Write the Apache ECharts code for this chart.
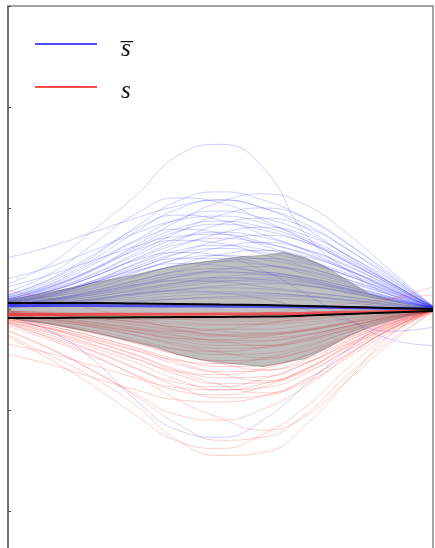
<!DOCTYPE html>
<html>
<head>
<meta charset="utf-8">
<script src="https://cdn.jsdelivr.net/npm/echarts@6/dist/echarts.min.js"></script>
<style>
  html, body { margin: 0; padding: 0; background: #fff; }
  #chart { width: 435px; height: 548px; }
</style>
</head>
<body>
<div id="chart"></div>
<script>
// sample positions along the horizontal axis
const xs = [0, 10, 20, 30, 40, 50, 60, 70, 80, 90, 100];

// s-bar trajectories (blue)
const sBarCurves = [
  [0.25, 0.45, 0.78, 1.12, 1.52, 1.63, 1.4, 0.74, 0.38, 0.14, 0.01],
  [0.51, 0.62, 0.76, 0.9, 1.02, 1.08, 1.0, 0.8, 0.52, 0.26, 0.02],
  [0.14, 0.29, 0.52, 0.81, 1.07, 1.16, 1.08, 0.9, 0.64, 0.35, 0.02],
  [0.11, 0.23, 0.4, 0.63, 0.87, 1.06, 1.14, 1.03, 0.74, 0.38, 0.03],
  [0.17, 0.35, 0.64, 0.94, 1.1, 1.05, 0.88, 0.68, 0.46, 0.24, 0.01],
  [0.13, 0.27, 0.49, 0.76, 0.99, 1.08, 1.0, 0.84, 0.59, 0.32, 0.02],
  [0.1, 0.2, 0.35, 0.55, 0.76, 0.93, 1.0, 0.9, 0.65, 0.33, 0.03],
  [0.12, 0.24, 0.44, 0.68, 0.89, 0.97, 0.9, 0.76, 0.53, 0.29, 0.02],
  [0.14, 0.3, 0.54, 0.79, 0.93, 0.88, 0.74, 0.58, 0.39, 0.2, 0.01],
  [0.09, 0.18, 0.32, 0.5, 0.68, 0.84, 0.9, 0.81, 0.59, 0.3, 0.03],
  [0.1, 0.22, 0.39, 0.61, 0.8, 0.87, 0.81, 0.68, 0.48, 0.26, 0.02],
  [0.1, 0.21, 0.38, 0.59, 0.77, 0.84, 0.78, 0.66, 0.46, 0.25, 0.02],
  [0.08, 0.16, 0.28, 0.45, 0.62, 0.75, 0.81, 0.73, 0.53, 0.27, 0.02],
  [0.12, 0.25, 0.46, 0.67, 0.79, 0.75, 0.63, 0.49, 0.33, 0.17, 0.01],
  [0.09, 0.19, 0.34, 0.53, 0.7, 0.76, 0.71, 0.59, 0.42, 0.23, 0.02],
  [0.07, 0.15, 0.26, 0.4, 0.55, 0.68, 0.73, 0.66, 0.47, 0.24, 0.02],
  [0.08, 0.18, 0.32, 0.49, 0.64, 0.7, 0.65, 0.55, 0.39, 0.21, 0.01],
  [0.1, 0.22, 0.39, 0.58, 0.68, 0.65, 0.54, 0.42, 0.29, 0.15, 0.01],
  [0.07, 0.13, 0.23, 0.36, 0.5, 0.61, 0.66, 0.59, 0.43, 0.22, 0.02],
  [0.08, 0.16, 0.28, 0.44, 0.58, 0.63, 0.59, 0.49, 0.35, 0.19, 0.01],
  [0.07, 0.15, 0.27, 0.42, 0.55, 0.6, 0.56, 0.47, 0.33, 0.18, 0.01],
  [0.06, 0.12, 0.2, 0.32, 0.44, 0.54, 0.58, 0.52, 0.38, 0.19, 0.02],
  [0.08, 0.18, 0.32, 0.48, 0.56, 0.53, 0.45, 0.35, 0.24, 0.12, 0.01],
  [0.06, 0.13, 0.24, 0.37, 0.49, 0.53, 0.49, 0.41, 0.29, 0.16, 0.01],
  [0.05, 0.1, 0.18, 0.28, 0.38, 0.47, 0.5, 0.45, 0.33, 0.17, 0.02],
  [0.06, 0.12, 0.21, 0.33, 0.43, 0.47, 0.44, 0.37, 0.26, 0.14, 0.01],
  [0.07, 0.14, 0.26, 0.38, 0.45, 0.43, 0.36, 0.28, 0.19, 0.1, 0.0],
  [0.04, 0.08, 0.15, 0.23, 0.32, 0.39, 0.42, 0.38, 0.27, 0.14, 0.01],
  [0.05, 0.1, 0.18, 0.28, 0.37, 0.4, 0.37, 0.31, 0.22, 0.12, 0.01],
  [0.04, 0.09, 0.17, 0.26, 0.34, 0.37, 0.34, 0.29, 0.2, 0.11, 0.01],
  [0.03, 0.07, 0.12, 0.19, 0.26, 0.32, 0.34, 0.31, 0.22, 0.11, 0.01],
  [0.04, 0.08, 0.14, 0.22, 0.29, 0.31, 0.29, 0.24, 0.17, 0.09, 0.01],
  [0.04, 0.09, 0.16, 0.24, 0.28, 0.27, 0.22, 0.17, 0.12, 0.06, 0.0],
  [0.03, 0.05, 0.09, 0.14, 0.19, 0.23, 0.25, 0.23, 0.16, 0.08, 0.01],
  [0.03, 0.05, 0.09, 0.15, 0.19, 0.21, 0.2, 0.16, 0.12, 0.06, 0.0],
  [0.02, 0.04, 0.08, 0.12, 0.16, 0.17, 0.16, 0.13, 0.09, 0.05, 0.0],
  [0.01, 0.03, 0.05, 0.07, 0.1, 0.12, 0.13, 0.12, 0.08, 0.04, 0.0],
  [0.06, 0.14, 0.26, 0.4, 0.5, 0.5, 0.38, 0.15, -0.1, -0.3, -0.36],
  [-0.08, -0.22, -0.5, -0.9, -1.2, -1.27, -1.1, -0.75, -0.4, -0.12, -0.01],
  [0.02, 0.05, 0.1, 0.15, 0.18, 0.16, 0.1, 0.0, -0.12, -0.22, -0.18],
  [0.3, 0.42, 0.58, 0.75, 0.88, 0.92, 0.85, 0.7, 0.5, 0.26, 0.02],
  [0.22, 0.34, 0.48, 0.62, 0.72, 0.74, 0.66, 0.54, 0.38, 0.2, 0.01],
  [0.03, 0.06, 0.1, 0.16, 0.22, 0.27, 0.29, 0.26, 0.18, 0.09, 0.01],
  [0.02, 0.04, 0.07, 0.1, 0.13, 0.15, 0.15, 0.13, 0.09, 0.04, 0.0],
  [0.04, 0.07, 0.12, 0.18, 0.24, 0.28, 0.27, 0.23, 0.16, 0.08, 0.0],
  [0.05, 0.09, 0.14, 0.2, 0.26, 0.3, 0.31, 0.27, 0.19, 0.1, 0.01],
  [0.02, 0.03, 0.05, 0.08, 0.1, 0.11, 0.11, 0.09, 0.06, 0.03, 0.0],
  [0.06, 0.1, 0.16, 0.24, 0.32, 0.36, 0.36, 0.3, 0.2, 0.1, 0.01]
];

// s trajectories (red)
const sCurves = [
  [-0.26, -0.46, -0.68, -0.95, -1.3, -1.45, -1.42, -1.15, -0.7, -0.26, -0.03],
  [-0.28, -0.5, -0.76, -1.05, -1.31, -1.38, -1.24, -0.97, -0.58, -0.25, -0.01],
  [-0.21, -0.39, -0.61, -0.86, -1.14, -1.3, -1.27, -1.04, -0.65, -0.31, -0.03],
  [-0.14, -0.29, -0.46, -0.66, -0.9, -1.08, -1.2, -1.06, -0.7, -0.34, -0.02],
  [-0.22, -0.4, -0.61, -0.84, -1.05, -1.1, -0.99, -0.77, -0.46, -0.2, -0.01],
  [-0.14, -0.26, -0.41, -0.58, -0.77, -0.88, -0.86, -0.7, -0.44, -0.21, -0.02],
  [-0.17, -0.31, -0.47, -0.65, -0.81, -0.85, -0.77, -0.6, -0.36, -0.15, -0.01],
  [-0.1, -0.2, -0.32, -0.46, -0.62, -0.75, -0.83, -0.73, -0.48, -0.23, -0.02],
  [-0.13, -0.24, -0.38, -0.53, -0.7, -0.8, -0.78, -0.64, -0.4, -0.19, -0.02],
  [-0.15, -0.28, -0.42, -0.59, -0.73, -0.77, -0.69, -0.54, -0.32, -0.14, -0.01],
  [-0.12, -0.22, -0.35, -0.49, -0.65, -0.74, -0.73, -0.59, -0.37, -0.18, -0.01],
  [-0.09, -0.17, -0.27, -0.39, -0.53, -0.64, -0.71, -0.62, -0.41, -0.2, -0.01],
  [-0.11, -0.2, -0.32, -0.45, -0.6, -0.68, -0.67, -0.54, -0.34, -0.16, -0.01],
  [-0.13, -0.23, -0.36, -0.49, -0.62, -0.65, -0.59, -0.46, -0.27, -0.12, -0.01],
  [-0.1, -0.19, -0.29, -0.41, -0.55, -0.62, -0.61, -0.5, -0.31, -0.15, -0.01],
  [-0.07, -0.14, -0.23, -0.33, -0.45, -0.54, -0.6, -0.53, -0.35, -0.17, -0.01],
  [-0.09, -0.17, -0.27, -0.38, -0.5, -0.57, -0.56, -0.46, -0.29, -0.14, -0.01],
  [-0.11, -0.19, -0.3, -0.41, -0.51, -0.54, -0.49, -0.38, -0.23, -0.1, -0.01],
  [-0.08, -0.15, -0.24, -0.34, -0.45, -0.51, -0.5, -0.41, -0.26, -0.12, -0.01],
  [-0.06, -0.12, -0.18, -0.26, -0.36, -0.43, -0.48, -0.42, -0.28, -0.13, -0.01],
  [-0.07, -0.14, -0.21, -0.3, -0.4, -0.45, -0.44, -0.36, -0.23, -0.11, -0.01],
  [-0.08, -0.15, -0.23, -0.32, -0.4, -0.42, -0.38, -0.29, -0.18, -0.08, 0.0],
  [-0.06, -0.12, -0.18, -0.26, -0.34, -0.39, -0.38, -0.31, -0.2, -0.09, -0.01],
  [-0.04, -0.09, -0.14, -0.2, -0.27, -0.32, -0.36, -0.32, -0.21, -0.1, -0.01],
  [-0.05, -0.1, -0.16, -0.22, -0.29, -0.33, -0.32, -0.26, -0.17, -0.08, -0.01],
  [-0.06, -0.11, -0.17, -0.23, -0.29, -0.3, -0.27, -0.21, -0.13, -0.05, 0.0],
  [-0.04, -0.08, -0.13, -0.18, -0.24, -0.27, -0.26, -0.22, -0.14, -0.06, -0.01],
  [-0.03, -0.06, -0.09, -0.13, -0.18, -0.22, -0.24, -0.21, -0.14, -0.07, 0.0],
  [-0.03, -0.06, -0.09, -0.13, -0.18, -0.2, -0.2, -0.16, -0.1, -0.05, 0.0],
  [-0.03, -0.06, -0.09, -0.12, -0.15, -0.16, -0.14, -0.11, -0.07, -0.03, 0.0],
  [-0.02, -0.04, -0.06, -0.08, -0.1, -0.12, -0.12, -0.1, -0.06, -0.03, 0.0],
  [-0.05, -0.1, -0.15, -0.2, -0.22, -0.2, -0.15, -0.08, 0.0, 0.1, 0.22],
  [-0.02, -0.05, -0.08, -0.1, -0.1, -0.08, -0.04, 0.0, 0.05, 0.1, 0.14],
  [-0.45, -0.55, -0.68, -0.8, -0.9, -0.92, -0.86, -0.7, -0.45, -0.2, -0.01],
  [-0.35, -0.44, -0.56, -0.68, -0.78, -0.8, -0.74, -0.6, -0.38, -0.17, -0.01],
  [0.18, 0.1, 0.0, -0.1, -0.2, -0.25, -0.24, -0.2, -0.12, -0.05, 0.0],
  [-0.03, -0.06, -0.1, -0.15, -0.21, -0.26, -0.28, -0.25, -0.17, -0.08, -0.01],
  [-0.02, -0.04, -0.07, -0.1, -0.13, -0.15, -0.15, -0.13, -0.09, -0.04, 0.0],
  [-0.05, -0.08, -0.13, -0.19, -0.26, -0.31, -0.31, -0.26, -0.17, -0.08, -0.01],
  [-0.04, -0.07, -0.11, -0.16, -0.22, -0.26, -0.25, -0.21, -0.14, -0.07, 0.0],
  [-0.06, -0.1, -0.16, -0.23, -0.31, -0.36, -0.36, -0.3, -0.2, -0.09, -0.01],
  [-0.02, -0.03, -0.05, -0.07, -0.09, -0.1, -0.1, -0.08, -0.05, -0.02, 0.0]
];

// spread band
const bandX = [0, 5, 10, 15, 20, 25, 30, 35, 40, 45, 50, 55, 60, 65, 70, 75, 80, 85, 90, 95, 100];
const bandUpper = [0.09, 0.13, 0.17, 0.21, 0.26, 0.30, 0.34, 0.39, 0.43, 0.46, 0.49, 0.52, 0.53, 0.56, 0.51, 0.41, 0.28, 0.15, 0.09, 0.04, 0.01];
const bandLower = [-0.09, -0.12, -0.15, -0.19, -0.23, -0.28, -0.33, -0.38, -0.45, -0.50, -0.53, -0.55, -0.57, -0.53, -0.49, -0.39, -0.27, -0.18, -0.11, -0.06, -0.02];

// averaged curves
const meanUpper = [0.06, 0.06, 0.06, 0.055, 0.05, 0.045, 0.04, 0.03, 0.02, 0.01, 0.0];
const meanLower = [-0.09, -0.088, -0.085, -0.082, -0.08, -0.078, -0.075, -0.065, -0.05, -0.035, -0.02];
const sBarMean = [0.035, 0.035, 0.034, 0.032, 0.03, 0.028, 0.025, 0.02, 0.013, 0.006, 0.0];
const sMean = [-0.055, -0.054, -0.053, -0.052, -0.051, -0.05, -0.048, -0.042, -0.033, -0.024, -0.015];

// visible y range and tick positions
const yMin = -2.366;
const yMax = 3;
const yTicks = [-2, -1, 0, 1, 2, 3];

const pairs = ys => xs.map((x, i) => [x, ys[i]]);

const series = [];
sBarCurves.forEach(c => series.push({
  type: 'line', data: pairs(c), smooth: true, showSymbol: false, silent: true,
  lineStyle: { color: 'rgba(20,20,255,0.2)', width: 1 }, z: 2
}));
sCurves.forEach(c => series.push({
  type: 'line', data: pairs(c), smooth: true, showSymbol: false, silent: true,
  lineStyle: { color: 'rgba(255,20,20,0.2)', width: 1 }, z: 3
}));
series.push({
  type: 'custom', data: [[0, 0]], silent: true, clip: true, z: 4,
  renderItem: (params, api) => {
    const pts = [];
    bandX.forEach((x, i) => pts.push(api.coord([x, bandUpper[i]])));
    for (let i = bandX.length - 1; i >= 0; i--) pts.push(api.coord([bandX[i], bandLower[i]]));
    return {
      type: 'polygon', shape: { points: pts },
      style: { fill: 'rgba(105,105,105,0.42)', stroke: 'rgba(80,80,80,0.45)', lineWidth: 0.8 }
    };
  }
});
series.push({ type: 'line', data: pairs(sBarMean), smooth: true, showSymbol: false, silent: true,
  lineStyle: { color: 'rgba(40,40,255,0.7)', width: 3 }, z: 5 });
series.push({ type: 'line', data: pairs(sMean), smooth: true, showSymbol: false, silent: true,
  lineStyle: { color: 'rgba(255,40,40,0.7)', width: 3 }, z: 5 });
series.push({ type: 'line', data: pairs(meanUpper), smooth: true, showSymbol: false, silent: true,
  lineStyle: { color: '#000', width: 2 }, z: 6 });
series.push({ type: 'line', data: pairs(meanLower), smooth: true, showSymbol: false, silent: true,
  lineStyle: { color: '#000', width: 2 }, z: 6 });

const chart = echarts.init(document.getElementById('chart'), null, { renderer: 'canvas' });
chart.setOption({
  animation: false,
  backgroundColor: '#fff',
  grid: { left: 8, top: 6, width: 425, height: 542, containLabel: false },
  xAxis: [{
    type: 'value', min: 0, max: 100, position: 'top',
    axisLine: { show: true, onZero: false, lineStyle: { color: '#888', width: 1.5 } },
    axisTick: { show: false }, axisLabel: { show: false }, splitLine: { show: false }
  }],
  yAxis: [{
    type: 'value', min: yMin, max: yMax, position: 'left',
    axisLine: { show: true, onZero: false, lineStyle: { color: '#444', width: 1.5 } },
    axisTick: { show: true, inside: true, length: 3, customValues: yTicks, lineStyle: { color: '#555', width: 1 } },
    axisLabel: { show: false, customValues: yTicks }, splitLine: { show: false }
  }, {
    type: 'value', min: yMin, max: yMax, position: 'right',
    axisLine: { show: true, onZero: false, lineStyle: { color: '#888', width: 1.5 } },
    axisTick: { show: false }, axisLabel: { show: false }, splitLine: { show: false }
  }],
  series: series,
  graphic: [
    { type: 'line', shape: { x1: 35, y1: 44, x2: 97, y2: 44 }, style: { stroke: '#1010ff', lineWidth: 1.5 }, z: 100 },
    { type: 'line', shape: { x1: 35, y1: 87, x2: 97, y2: 87 }, style: { stroke: '#ff4d4d', lineWidth: 2 }, z: 100 },
    { type: 'text', x: 121, y: 49, z: 100,
      style: { text: 's\u0305', font: 'italic 25px "Liberation Serif"', fill: '#111', verticalAlign: 'middle' } },
    { type: 'text', x: 121, y: 91, z: 100,
      style: { text: 's', font: 'italic 25px "Liberation Serif"', fill: '#111', verticalAlign: 'middle' } }
  ]
});
</script>
</body>
</html>
